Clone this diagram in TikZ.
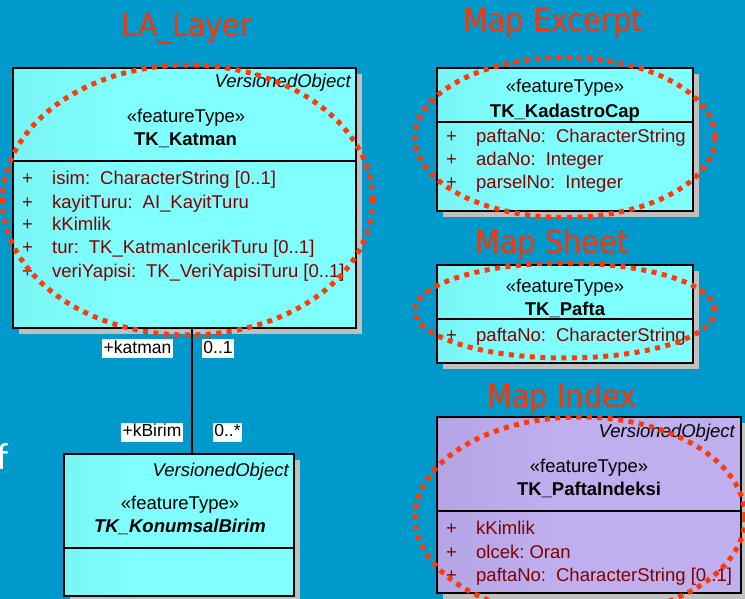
\documentclass[tikz,border=0pt]{standalone}
\usepackage{fontspec}
\setmainfont{Liberation Sans}
\newfontfamily\titlefont[FakeStretch=0.9]{DejaVu Sans}
\newfontfamily\slidefont{Carlito}
\usetikzlibrary{shadows}

\definecolor{bgblue}{HTML}{0099CC}
\definecolor{cyanL}{HTML}{6FE3E3}
\definecolor{cyanR}{HTML}{80FFFF}
\definecolor{purL}{HTML}{A898D8}
\definecolor{purR}{HTML}{BFAFEF}
\definecolor{shadowgray}{HTML}{C0C0C0}
\definecolor{attrred}{HTML}{800000}
\definecolor{titlered}{HTML}{FF3300}
\definecolor{ringred}{HTML}{FF3A0A}

\pgfdeclarehorizontalshading{cyanfill}{100bp}{color(0bp)=(cyanL); color(40bp)=(cyanR); color(100bp)=(cyanR)}
\pgfdeclarehorizontalshading{purplefill}{100bp}{color(0bp)=(purL); color(45bp)=(purR); color(100bp)=(purR)}

% "+" column of an attribute row, followed by the attribute text
\newcommand\plusbox{\makebox[30pt][l]{+}}
\newcommand\gap{\hspace{10pt}}

\begin{document}
\begin{tikzpicture}[x=1pt,y=-1pt,
  classbox/.style={draw=black, line width=1.6pt, inner sep=0pt, outer sep=0pt,
    anchor=north west, shade,
    general shadow={fill=shadowgray, shadow xshift=6pt, shadow yshift=-6pt}},
  cyanbox/.style={classbox, shading=cyanfill},
  purplebox/.style={classbox, shading=purplefill},
  divider/.style={line width=1.6pt},
  boxtext/.style={inner sep=0pt, anchor=base, font=\fontsize{18.5}{22}\selectfont},
  classname/.style={boxtext, font=\fontsize{18.5}{22}\selectfont\bfseries},
  abstractname/.style={boxtext, font=\fontsize{18.5}{22}\selectfont\bfseries\itshape},
  supername/.style={boxtext, anchor=base east, font=\fontsize{18.5}{22}\selectfont\itshape},
  attr/.style={boxtext, anchor=base west, text=attrred},
  titletext/.style={inner sep=0pt, anchor=base, text=titlered,
    font=\titlefont\fontsize{32}{36}\selectfont},
  dotring/.style={draw=ringred, line width=5pt, dash pattern=on 5pt off 5.5pt},
  rolelabel/.style={fill=white, text=black, inner xsep=1.5pt, inner ysep=1.5pt,
    text height=12.5pt, text depth=3.5pt, font=\fontsize{17.5}{20}\selectfont},
  assoc/.style={line width=1.6pt}
]
\fill[bgblue] (0,0) rectangle (745,599);
\useasboundingbox (0,0) rectangle (745,599);

% clipped letter of the slide text at the left edge
\node[inner sep=0pt, anchor=base west, text=white,
  font=\slidefont\fontsize{38}{40}\selectfont] (slideletter) at (-3.5,469) {f};

% ---------- titles ----------
\node[titletext] (tlayer) at (187,37) {LA\_Layer};
\node[titletext] (texcerpt) at (553,32) {Map Excerpt};
\node[titletext] (tsheet) at (552,253) {Map Sheet};
\node[titletext] (tindex) at (562,407) {Map Index};

% ---------- TK_Katman ----------
\node[cyanbox, minimum width=343pt, minimum height=260pt] (katman) at (13,68) {};
\draw[divider] ([yshift=-93pt]katman.north west) -- ([yshift=-93pt]katman.north east);
\node[supername] (katsup) at (351,88) {VersionedObject};
\node[boxtext] (katst) at (186,123) {«featureType»};
\node[classname] (katnm) at (185.5,146) {TK\_Katman};
\node[attr] (kat1) at (22,185) {\plusbox isim:\gap CharacterString [0..1]};
\node[attr] (kat2) at (22,208) {\plusbox kayitTuru:\gap AI\_KayitTuru};
\node[attr] (kat3) at (22,231) {\plusbox kKimlik};
\node[attr] (kat4) at (22,254) {\plusbox tur:\gap TK\_KatmanIcerikTuru [0..1]};
\node[attr] (kat5) at (22,277) {\plusbox veriYapisi:\gap TK\_VeriYapisiTuru [0..1]};

% ---------- TK_KonumsalBirim ----------
\node[cyanbox, minimum width=230pt, minimum height=142pt] (konum) at (64,454) {};
\draw[divider] ([yshift=-94pt]konum.north west) -- ([yshift=-94pt]konum.north east);
\node[supername] (konsup) at (289,476) {VersionedObject};
\node[boxtext] (konst) at (180,509) {«featureType»};
\node[abstractname] (konnm) at (180,532) {TK\_KonumsalBirim};

% ---------- association ----------
\draw[assoc] ([xshift=7.5pt]katman.south) -- ([xshift=13pt]konum.north);
\node[rolelabel] (rkatman) at (137.5,348.5) {+katman};
\node[rolelabel] (mkatman) at (218,348.5) {0..1};
\node[rolelabel] (rbirim) at (152,432) {+kBirim};
\node[rolelabel] (mbirim) at (227.5,432) {0..*};

% ---------- TK_KadastroCap ----------
\node[cyanbox, minimum width=256pt, minimum height=143pt] (kadastro) at (437,68) {};
\draw[divider] ([yshift=-54pt]kadastro.north west) -- ([yshift=-54pt]kadastro.north east);
\node[boxtext] (kadst) at (565,93) {«featureType»};
\node[classname] (kadnm) at (565,118) {TK\_KadastroCap};
\node[attr] (kad1) at (446,142.5) {\plusbox paftaNo:\gap CharacterString};
\node[attr] (kad2) at (446,165.5) {\plusbox adaNo:\gap Integer};
\node[attr] (kad3) at (446,188.5) {\plusbox parselNo:\gap Integer};

% ---------- TK_Pafta ----------
\node[cyanbox, minimum width=256pt, minimum height=98pt] (pafta) at (437,265) {};
\draw[divider] ([yshift=-54pt]pafta.north west) -- ([yshift=-54pt]pafta.north east);
\node[boxtext] (pafst) at (565,292) {«featureType»};
\node[classname] (pafnm) at (565,315) {TK\_Pafta};
\node[attr] (paf1) at (446,341.5) {\plusbox paftaNo:\gap CharacterString};

% ---------- TK_PaftaIndeksi ----------
\node[purplebox, minimum width=304pt, minimum height=176pt] (indeksi) at (437,417) {};
\draw[divider] ([yshift=-94pt]indeksi.north west) -- ([yshift=-94pt]indeksi.north east);
\node[supername] (indsup) at (735,437) {VersionedObject};
\node[boxtext] (indst) at (589,472) {«featureType»};
\node[classname] (indnm) at (589,495) {TK\_PaftaIndeksi};
\node[attr] (ind1) at (446,534.5) {\plusbox kKimlik};
\node[attr] (ind2) at (446,558) {\plusbox olcek:\hspace{5pt}Oran};
\node[attr] (ind3) at (446,581.5) {\plusbox paftaNo:\gap CharacterString [0..1]};

% ---------- highlight rings ----------
\draw[dotring] (187.5,200) ellipse [x radius=185pt, y radius=135pt];
\draw[dotring] (565,137.5) ellipse [x radius=150pt, y radius=80pt];
\draw[dotring] (565,310.5) ellipse [x radius=150pt, y radius=47.5pt];
\draw[dotring] (580,517) ellipse [x radius=165pt, y radius=100pt];
\end{tikzpicture}
\end{document}
